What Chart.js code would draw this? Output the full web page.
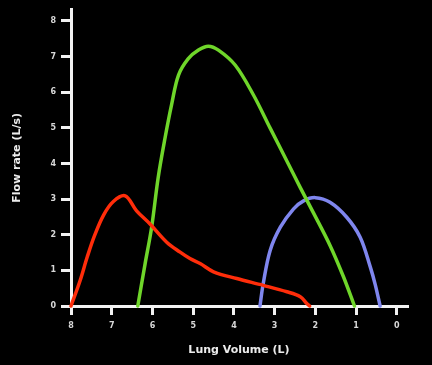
<!DOCTYPE html>
<html>
<head>
<meta charset="utf-8">
<script src="https://cdn.jsdelivr.net/npm/chart.js@4/dist/chart.umd.min.js"></script>
<style>
html,body{margin:0;padding:0;background:#000;}
canvas{display:block;}
</style>
</head>
<body>
<canvas id="c" width="432" height="365"></canvas>
<script>
// Lung volume (L) and flow rate (L/s) for each loop
const redVolume   = [8.00, 7.78, 7.60, 7.42, 7.20, 6.96, 6.67, 6.39, 6.06, 5.65, 5.32, 5.08, 4.83, 4.50, 3.93, 3.28, 2.70, 2.37, 2.21, 2.14];
const redFlow     = [0.00, 0.70, 1.38, 1.98, 2.55, 2.93, 3.09, 2.67, 2.30, 1.79, 1.51, 1.33, 1.19, 0.96, 0.77, 0.58, 0.40, 0.26, 0.07, 0.00];

const greenVolume = [6.36, 6.18, 6.02, 5.86, 5.69, 5.53, 5.36, 5.12, 4.87, 4.63, 4.38, 3.97, 3.52, 3.11, 2.70, 2.37, 2.05, 1.64, 1.31, 1.04];
const greenFlow   = [0.00, 1.19, 2.21, 3.60, 4.72, 5.65, 6.48, 6.94, 7.18, 7.29, 7.18, 6.76, 5.92, 4.99, 4.07, 3.32, 2.62, 1.70, 0.82, 0.00];

const blueVolume  = [3.36, 3.28, 3.11, 2.86, 2.54, 2.29, 2.00, 1.64, 1.23, 0.90, 0.65, 0.53, 0.41];
const blueFlow    = [0.00, 0.63, 1.56, 2.21, 2.72, 2.95, 3.04, 2.91, 2.49, 1.93, 1.09, 0.60, 0.00];

const xTickValues = [0, 1, 2, 3, 4, 5, 6, 7, 8];
const yTickValues = [0, 1, 2, 3, 4, 5, 6, 7, 8];
const xTitle = 'Lung Volume (L)';
const yTitle = 'Flow rate (L/s)';

function pts(xs, ys){ return xs.map((x,i)=>({x:x, y:ys[i]})); }

const axisColor = '#f2f2f2';
const tickFont = {family:'DejaVu Sans', size:8, weight:'bold'};
const titleFont = {family:'DejaVu Sans', size:11, weight:'bold'};

const bg = {
  id:'bg',
  beforeDraw(chart){
    const ctx = chart.ctx;
    ctx.save();
    ctx.fillStyle = '#000';
    ctx.fillRect(0,0,chart.width,chart.height);
    ctx.restore();
  }
};

function ds(xs, ys, color){
  return {
    data: pts(xs, ys),
    borderColor: color,
    borderWidth: 3.5,
    pointRadius: 0,
    fill: false,
    tension: 0.35,
    clip: false,
    borderCapStyle: 'round',
    borderJoinStyle: 'round'
  };
}

new Chart(document.getElementById('c'), {
  type: 'line',
  data: {
    datasets: [
      ds(redVolume, redFlow, '#ff2d0a'),
      ds(greenVolume, greenFlow, '#6fd62a'),
      ds(blueVolume, blueFlow, '#7f86ee')
    ]
  },
  options: {
    responsive: false,
    animation: false,
    devicePixelRatio: 1,
    layout: {padding: {top: 8, right: 25, bottom: 0, left: 0}},
    plugins: {legend: {display: false}, tooltip: {enabled: false}},
    scales: {
      x: {
        type: 'linear',
        reverse: true,
        min: -0.25,
        max: 8,
        afterBuildTicks(scale){ scale.ticks = xTickValues.map(v=>({value:v})); },
        afterFit(scale){ scale.height = 59; },
        border: {display: true, color: axisColor, width: 3},
        grid: {display: true, drawOnChartArea: false, drawTicks: true, tickLength: 9, color: axisColor, lineWidth: 3, tickWidth: 3},
        ticks: {color: '#d8d8d8', font: tickFont, padding: 6, maxRotation: 0,
                callback: v => String(v)},
        title: {display: true, text: xTitle, color: '#ececec', font: titleFont, padding: {top: 0, bottom: 8}}
      },
      y: {
        type: 'linear',
        min: 0,
        max: 8.31,
        afterBuildTicks(scale){ scale.ticks = yTickValues.map(v=>({value:v})); },
        afterFit(scale){ scale.width = 71; },
        border: {display: true, color: axisColor, width: 3},
        grid: {display: true, drawOnChartArea: false, drawTicks: true, tickLength: 10, color: axisColor, lineWidth: 3, tickWidth: 3},
        ticks: {color: '#d8d8d8', font: tickFont, padding: 5,
                callback: v => String(v)},
        title: {display: true, text: yTitle, color: '#ececec', font: titleFont, padding: {top: 11, bottom: 0}}
      }
    }
  },
  plugins: [bg]
});
</script>
</body>
</html>
